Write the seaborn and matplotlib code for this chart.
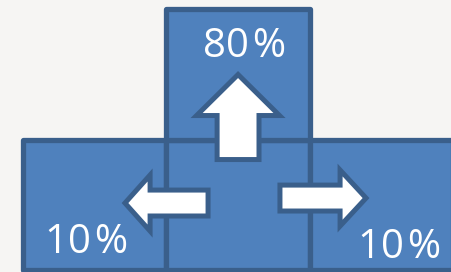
import matplotlib.pyplot as plt
import seaborn as sns
from matplotlib.patches import Rectangle, Polygon

# valores do diagrama
directions = ["left", "up", "right"]
shares = [10, 80, 10]
labels = [f"{s}\u200a%" for s in shares]

# celulas (coluna, linha) de cada quadrado
cell_cols = [0, 1, 2, 1]
cell_rows = [0, 0, 0, 1]

sns.set_theme(style="white")
plt.rcParams['font.family'] = ['Open Sans', 'DejaVu Sans']

fill = "#4f81bd"
edge = "#3a5f8b"
bg = "#f6f5f3"

fig = plt.figure(figsize=(4.52, 2.72), dpi=100, facecolor=bg)
ax = fig.add_axes([0, 0, 1, 1])
ax.set_facecolor(bg)
ax.set_xlim(-0.157, 2.993)
ax.set_ylim(-0.0115, 2.065)
ax.axis("off")

for c, r in zip(cell_cols, cell_rows):
    ax.add_patch(Rectangle((c, r), 1, 1, facecolor=fill, edgecolor=edge,
                           linewidth=3.8, joinstyle="round"))

# setas saindo do quadrado central
def arrow(direction):
    if direction == "up":
        cx = 1.502
        return [(cx, 1.496), (cx + 0.289, 1.183), (cx + 0.146, 1.183),
                (cx + 0.146, 0.847), (cx - 0.146, 0.847), (cx - 0.146, 1.183),
                (cx - 0.289, 1.183)]
    if direction == "left":
        cy = 0.515
        return [(0.714, cy), (0.889, cy + 0.214), (0.889, cy + 0.099),
                (1.293, cy + 0.099), (1.293, cy - 0.099), (0.889, cy - 0.099),
                (0.889, cy - 0.214)]
    cy = 0.553
    return [(2.394, cy), (2.213, cy + 0.214), (2.213, cy + 0.099),
            (1.794, cy + 0.099), (1.794, cy - 0.099), (2.213, cy - 0.099),
            (2.213, cy - 0.214)]

for d in directions:
    ax.add_patch(Polygon(arrow(d), closed=True, facecolor="white",
                         edgecolor=edge, linewidth=3.6, joinstyle="miter"))

label_pos = {"left": (0.449, 0.134), "up": (1.548, 1.630), "right": (2.631, 0.095)}
for d, lab in zip(directions, labels):
    x, y = label_pos[d]
    ax.text(x, y, lab, ha="center", va="baseline", color="white", fontsize=29)

fig.savefig("out.png", dpi=100, facecolor=bg)
